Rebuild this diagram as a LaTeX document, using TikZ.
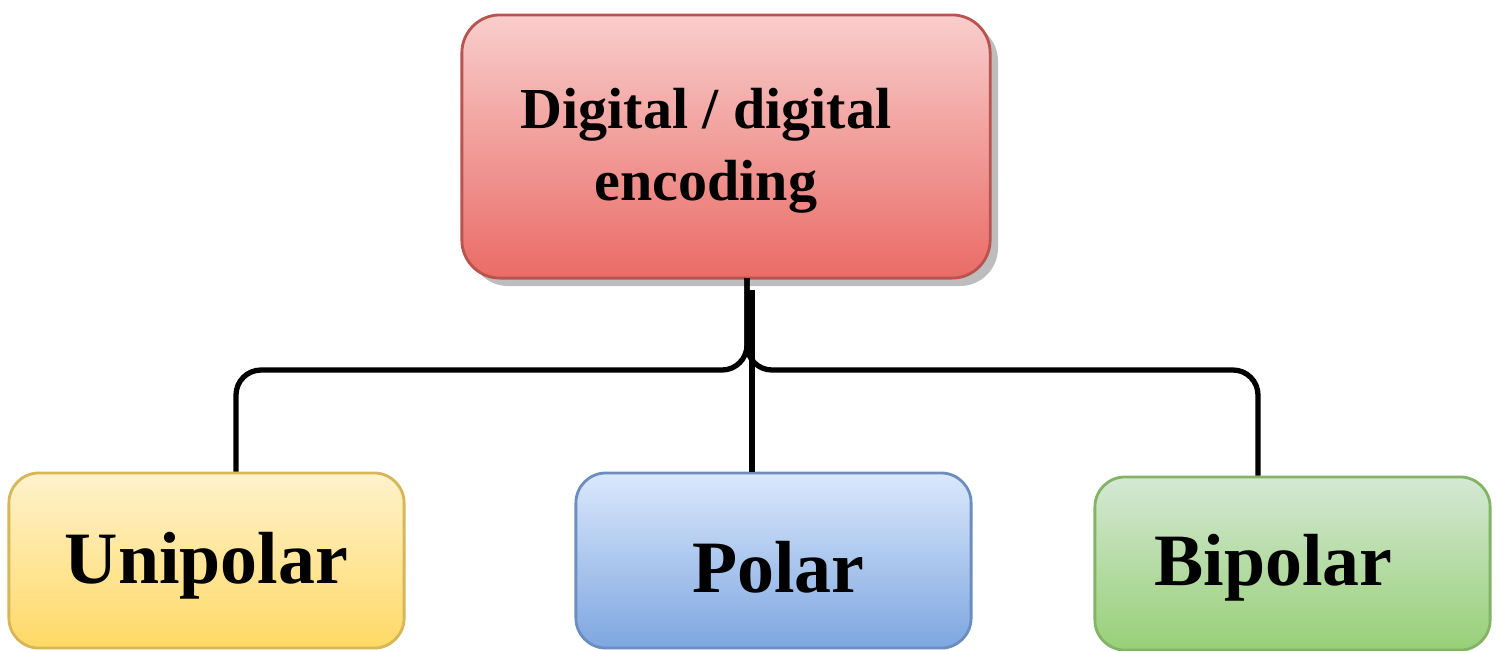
\documentclass[tikz,border=0pt]{standalone}
\usepackage{fontspec}
\setmainfont{Liberation Serif}
\definecolor{redtop}{HTML}{F8CECC}
\definecolor{redbot}{HTML}{EA6B66}
\definecolor{redline}{HTML}{B85450}
\definecolor{yeltop}{HTML}{FFF2CC}
\definecolor{yelbot}{HTML}{FFD966}
\definecolor{yelline}{HTML}{D6B656}
\definecolor{bluetop}{HTML}{DAE8FC}
\definecolor{bluebot}{HTML}{7EA6E0}
\definecolor{blueline}{HTML}{6C8EBF}
\definecolor{greentop}{HTML}{D5E8D4}
\definecolor{greenbot}{HTML}{97D077}
\definecolor{greenline}{HTML}{82B366}
\definecolor{shadowgray}{HTML}{BDBDBD}
\newcommand{\lowertext}[2]{\raisebox{-#1}[\height][\depth]{#2}}
\tikzset{
  box/.style={rectangle, rounded corners=0.3cm, line width=0.8pt, align=center,
    inner sep=0pt, font=\bfseries\fontsize{21}{25}\selectfont},
  topbox/.style={box, rounded corners=0.38cm, minimum width=5.28cm, minimum height=2.63cm,
    top color=redtop, bottom color=redbot, draw=redline,
    font=\bfseries\fontsize{16.5}{20.5}\selectfont},
  leafbox/.style={box, minimum width=3.95cm, minimum height=1.75cm},
  conn/.style={line width=1.5pt, rounded corners=0.25cm}
}
\begin{document}
\begin{tikzpicture}[x=0.01cm, y=-0.01cm]
\useasboundingbox (0,0) rectangle (1503,650);
% shadow of the top box
\fill[shadowgray, rounded corners=0.38cm] (470,23) rectangle (998,286);
\node[topbox] (top) at (726,146.5) {\lowertext{0.04cm}{Digital / digital}\hspace*{0.4cm}\\\lowertext{0.04cm}{encoding}\hspace*{0.4cm}};
\node[leafbox, top color=yeltop, bottom color=yelbot, draw=yelline] (uni) at (206.5,560.5) {\lowertext{0.05cm}{Unipolar}};
\node[leafbox, top color=bluetop, bottom color=bluebot, draw=blueline] (pol) at (773.5,560.5) {\hspace*{0.1cm}\lowertext{0.07cm}{Polar}};
\node[leafbox, top color=greentop, bottom color=greenbot, draw=greenline, minimum height=1.73cm] (bip) at (1292.5,563.5) {\lowertext{0.04cm}{Bipolar}\hspace*{0.38cm}};
\coordinate (t) at (747,278);
\coordinate (j) at (747,370);
\coordinate (jl) at (236,370);
\coordinate (jr) at (1258,370);
\coordinate (tm) at (752,290);
\draw[conn] (t) -- (j) -- (jl) -- (jl |- uni.north);
\draw[conn] (t) -- (j) -- (jr) -- (jr |- bip.north);
\draw[conn] (tm) -- (tm |- pol.north);
\end{tikzpicture}
\end{document}
